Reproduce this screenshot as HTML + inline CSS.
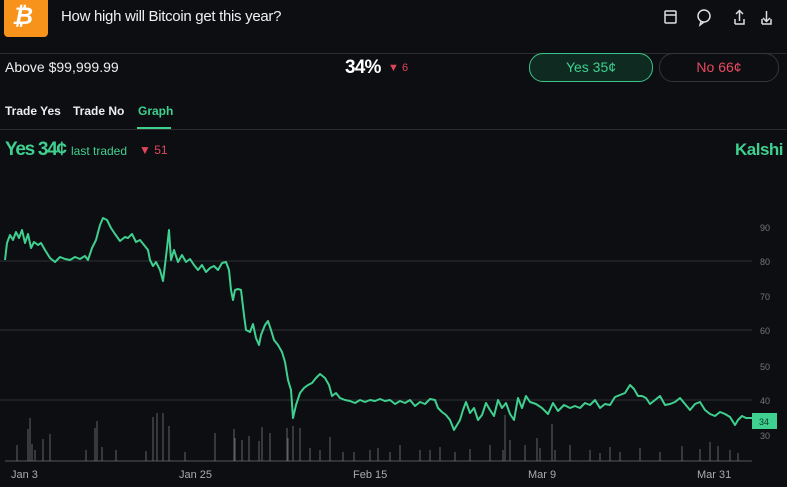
<!DOCTYPE html>
<html><head><style>
body{margin:0;width:787px;height:487px;background:#0d0e12;overflow:hidden;font-family:"Liberation Sans",sans-serif;position:relative;color:#e8e8e8}
.a{position:absolute;white-space:nowrap}
</style></head><body>
<div class="a" style="left:4px;top:0;width:44px;height:37px;background:#f7931a;border-radius:0 0 4px 4px"></div>
<div class="a" style="left:12px;top:3px;font-size:24px;font-weight:bold;color:#fff;font-style:italic">₿</div>
<div class="a" style="left:61px;top:8px;font-size:15px;color:#f0f0f0;letter-spacing:-0.3px">How high will Bitcoin get this year?</div>
<svg class="a" style="left:660px;top:8px" width="120" height="20" fill="none" stroke="#ddd" stroke-width="1.5">
<rect x="5" y="3" width="11" height="12" rx="1"/><line x1="5" y1="7" x2="16" y2="7"/>
<circle cx="44" cy="8" r="6"/><path d="M41 13 L40 17 L44 14"/>
<path d="M75 16 H84 V11 M75 16 V11 M79.5 13 V3 M76 6 L79.5 2.5 L83 6"/>
<path d="M102 16 H111 V11 M102 16 V11 M106.5 3 V13 M103 10 L106.5 13.5 L110 10"/>
</svg>
<div class="a" style="left:0;top:53px;width:787px;height:1px;background:#2a2c30"></div>
<div class="a" style="left:5px;top:59px;font-size:14px;color:#eee">Above $99,999.99</div>
<div class="a" style="left:345px;top:57px;font-size:19px;font-weight:bold;color:#fff;letter-spacing:-0.8px">34%</div>
<div class="a" style="left:388px;top:62px;font-size:11px;color:#e0455a">▼ 6</div>
<div class="a" style="left:529px;top:53px;width:122px;height:27px;border:1px solid #3ac48a;border-radius:14px;background:#0f2a20;color:#3fd08f;font-size:14px;text-align:center;line-height:27px">Yes 35¢</div>
<div class="a" style="left:659px;top:53px;width:118px;height:27px;border:1px solid #33353a;border-radius:14px;color:#e84a5f;font-size:14px;text-align:center;line-height:27px">No 66¢</div>
<div class="a" style="left:5px;top:104px;font-size:12px;color:#eee;font-weight:bold">Trade Yes</div>
<div class="a" style="left:73px;top:104px;font-size:12px;color:#eee;font-weight:bold">Trade No</div>
<div class="a" style="left:138px;top:104px;font-size:12px;color:#3fd08f;font-weight:bold">Graph</div>
<div class="a" style="left:137px;top:127px;width:34px;height:2px;background:#3fd08f"></div>
<div class="a" style="left:0;top:129px;width:787px;height:1px;background:#2a2c30"></div>
<div class="a" style="left:5px;top:139px;font-size:19px;font-weight:bold;color:#3fd08f;letter-spacing:-1.3px">Yes 34¢</div>
<div class="a" style="left:71px;top:144px;font-size:12px;color:#3fd08f">last traded</div>
<div class="a" style="left:139px;top:143px;font-size:12px;color:#e0455a">▼ 51</div>
<div class="a" style="left:735px;top:140px;font-size:17px;font-weight:bold;color:#3fd08f;letter-spacing:-0.5px">Kalshi</div>
<svg class="a" style="left:0;top:0" width="787" height="487">
<g stroke="#2e3034" stroke-width="1"><line x1="0" y1="261" x2="752" y2="261"/><line x1="0" y1="330" x2="752" y2="330"/><line x1="0" y1="400" x2="752" y2="400"/></g>
<g fill="#777" font-size="9" font-family="Liberation Sans">
<text x="760" y="231">90</text><text x="760" y="265">80</text><text x="760" y="300">70</text><text x="760" y="334">60</text><text x="760" y="370">50</text><text x="760" y="404">40</text><text x="760" y="439">30</text></g>
<line x1="5" y1="461" x2="752" y2="461" stroke="#555" stroke-width="1"/>
<g stroke="#777" stroke-width="0.8">
<path d="M17 461V445M28 461V429M30 461V418M32 461V444M35 461V450M43 461V439M50 461V434M86 461V450M95 461V428M97 461V421M102 461V447M116 461V450M146 461V451M153 461V417M157 461V413M163 461V413M169 461V426M185 461V452M215 461V433M234 461V429M235 461V438M242 461V440M249 461V436M259 461V441M262 461V427M270 461V433M287 461V428M288 461V438M293 461V426M300 461V428M310 461V448M320 461V450M330 461V437M343 461V452M354 461V452M370 461V450M378 461V448M390 461V452M400 461V445M420 461V450M430 461V450M440 461V447M455 461V452M470 461V449M490 461V445M503 461V450M505 461V415M510 461V440M525 461V445M537 461V438M540 461V448M552 461V424M555 461V450M570 461V445M590 461V450M600 461V453M610 461V447M620 461V452M640 461V448M660 461V452M682 461V446M700 461V449M710 461V442M718 461V446M730 461V450M738 461V453"/>
</g>
<polyline fill="none" stroke="#3fd08f" stroke-width="2" stroke-linejoin="round" points="5,260 7,243 10,235 13,240 16,232 19,238 22,230 25,243 28,234 31,248 34,242 38,245 41,243 45,250 50,258 55,262 60,257 65,259 70,260 75,257 80,259 85,256 88,260 92,248 96,240 100,225 103,218 107,220 111,228 115,234 120,241 125,237 128,238 132,234 136,242 140,240 144,245 148,250 150,260 153,266 156,262 160,270 163,281 165,265 167,248 169,230 171,260 174,250 178,262 182,255 186,262 190,259 194,265 198,270 202,265 206,272 210,268 214,266 218,270 222,263 226,262 229,270 231,290 233,300 235,290 238,289 241,290 244,315 246,330 250,332 253,324 256,338 259,345 261,335 265,325 268,321 271,330 274,340 278,345 282,352 285,362 288,380 291,390 293,418 296,405 300,393 304,388 308,385 312,383 316,378 320,374 325,378 329,385 332,396 336,393 340,398 345,400 350,401 355,403 360,400 365,402 370,400 375,401 380,399 385,401 390,400 395,404 400,401 405,403 410,400 415,406 420,402 425,404 430,399 435,400 438,408 442,412 446,415 450,420 454,430 457,425 460,420 463,410 466,402 470,413 474,408 478,420 482,415 486,403 490,410 494,416 498,400 502,408 506,403 510,414 514,420 518,398 522,408 526,396 530,402 536,404 542,408 548,414 553,403 558,411 564,405 570,408 575,406 580,408 585,403 590,405 595,400 600,408 605,404 610,405 615,397 620,395 625,393 630,385 634,389 638,396 642,396 646,398 650,404 655,400 660,396 665,405 670,404 675,402 680,398 685,404 690,410 695,404 700,402 705,410 710,414 715,416 720,412 725,414 730,417 735,425 738,420 742,416 746,418 752,418"/>
<rect x="752" y="413" width="25" height="16" fill="#3fd08f"/>
<text x="759" y="425" font-size="9" fill="#0d3a26" font-family="Liberation Sans">34</text>
<g fill="#aaa" font-size="11" font-family="Liberation Sans">
<text x="11" y="478">Jan 3</text><text x="179" y="478">Jan 25</text><text x="353" y="478">Feb 15</text><text x="528" y="478">Mar 9</text><text x="697" y="478">Mar 31</text></g>
</svg>
</body></html>
